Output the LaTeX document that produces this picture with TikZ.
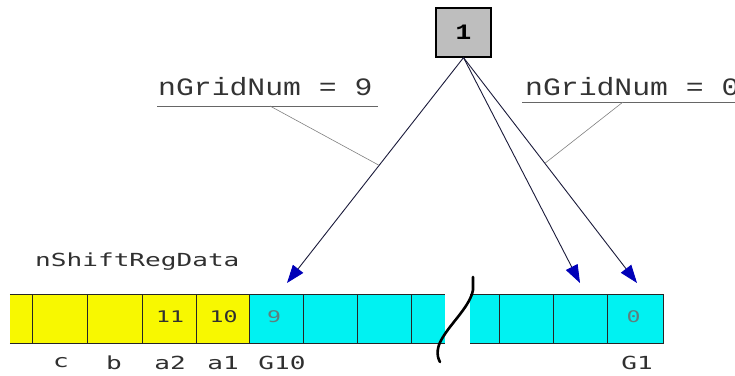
\documentclass[tikz,border=0pt]{standalone}
\usepackage{fontspec}
\usetikzlibrary{arrows.meta}
\newfontfamily\pixfont[FakeStretch=1.45]{DejaVu Sans Mono}
\newfontfamily\courfont[FakeStretch=1.19]{Liberation Mono}
\definecolor{regyellow}{HTML}{F8F800}
\definecolor{regcyan}{HTML}{00F2F2}
\definecolor{tipblue}{HTML}{0000B8}
\definecolor{boxgray}{HTML}{BEBEBE}
\definecolor{valgray}{HTML}{5E7E7E}
\definecolor{inkdark}{HTML}{303030}
\definecolor{leadgray}{HTML}{808080}
\definecolor{arrowline}{HTML}{1A1A3A}
\begin{document}
\begin{tikzpicture}[x=1pt,y=-1pt,
  cell/.style={inner sep=0pt, minimum height=48pt, text=inkdark,
    font=\pixfont\fontsize{16}{16}\selectfont},
  ycell/.style={cell, fill=regyellow},
  ccell/.style={cell, fill=regcyan},
  regline/.style={line width=1.3pt, black!85},
  sublabel/.style={inner sep=0pt, text=inkdark, font=\pixfont\fontsize{18}{18}\selectfont},
  gridlabel/.style={inner sep=0pt, anchor=base west, text=black!80,
    font=\courfont\fontsize{25}{25}\selectfont},
  uline/.style={line width=0.9pt, black!60},
  leader/.style={line width=0.6pt, leadgray},
  ptr/.style={line width=0.9pt, arrowline,
    -{Triangle[length=18pt,width=13pt,color=tipblue]}},
  numbox/.style={draw, line width=1.2pt, fill=boxgray, minimum width=55pt,
    minimum height=49pt, inner sep=0pt,
    font=\courfont\bfseries\fontsize{22}{22}\selectfont},
]
\useasboundingbox (0,0) rectangle (735,375);

% register cells, left block
\node[ycell, minimum width=23pt] (y0) at (21.5,319) {};
\node[ycell, minimum width=55pt] (y1) at (60.5,319) {};
\node[ycell, minimum width=55pt] (y2) at (115.5,319) {};
\node[ycell, minimum width=54pt] (y3) at (170,319) {\raisebox{4pt}{11}};
\node[ycell, minimum width=53pt] (y4) at (223.5,319) {\raisebox{4pt}{10}};
\node[ccell, minimum width=54pt, text=valgray] (c1) at (277,319) {\raisebox{4pt}{\hspace*{-6pt}9}};
\node[ccell, minimum width=54pt] (c2) at (331,319) {};
\node[ccell, minimum width=54pt] (c3) at (385,319) {};
\node[ccell, minimum width=33pt] (c4) at (428.5,319) {};
% right block
\node[ccell, minimum width=30pt] (d1) at (485,319) {};
\node[ccell, minimum width=54pt] (d2) at (527,319) {};
\node[ccell, minimum width=54pt] (d3) at (581,319) {};
\node[ccell, minimum width=55pt, text=valgray] (d4) at (635.5,319) {\raisebox{4pt}{\hspace*{-4pt}0}};

% register outlines
\draw[regline] (y0.north west) -- (c4.north east);
\draw[regline] (y0.south west) -- (c4.south east);
\foreach \c in {y1,y2,y3,y4,c1,c2,c3,c4}
  \draw[regline] (\c.north west) -- (\c.south west);
\draw[regline] (d1.north west) -- (d4.north east) -- (d4.south east) -- (d1.south west);
\foreach \c in {d2,d3,d4}
  \draw[regline] (\c.north west) -- (\c.south west);

% break mark
\coordinate (brk1) at (473,277);
\coordinate (brk2) at (473,290);
\coordinate (brk3) at (443,337);
\coordinate (brk4) at (440,362);
\draw[line width=2.6pt, line cap=round] (brk1) -- (brk2)
  .. controls (470,306) and (452,322) .. (brk3)
  .. controls (437,346) and (436,355) .. (brk4);

% labels
\node[sublabel, anchor=west] (regname) at (35,262) {nShiftRegData};
\node[sublabel] (lc) at (61,363) {c};
\node[sublabel] (lb) at (114,363) {b};
\node[sublabel] (la2) at (170,363) {a2};
\node[sublabel] (la1) at (223,363) {a1};
\node[sublabel] (lg10) at (282,363) {G10};
\node[sublabel] (lg1) at (637,363) {G1};

% pointer box
\node[numbox] (one) at (463.5,32.5) {1};

% pointer targets
\coordinate (t9) at (287,283);
\coordinate (tm) at (580,283);
\coordinate (t0) at (637,283);
\draw[ptr] (one.south) -- coordinate[pos=0.478] (m9) (t9);
\draw[ptr] (one.south) -- (tm);
\draw[ptr] (one.south) -- coordinate[pos=0.469] (m0) (t0);

% grid-number callouts
\node[gridlabel] (g9) at (158,95) {nGridNum = 9};
\node[gridlabel] (g0) at (525,95) {nGridNum = 0};
\coordinate (u9a) at (157,106);
\coordinate (u9b) at (378,106);
\coordinate (u0a) at (522,102);
\coordinate (u0b) at (740,102);
\draw[uline] (u9a) -- (u9b);
\draw[uline] (u0a) -- (u0b);
\coordinate (k9) at (270,106);
\coordinate (k0) at (623,102);
\draw[leader] (k9) -- (m9);
\draw[leader] (k0) -- (m0);
\end{tikzpicture}
\end{document}
